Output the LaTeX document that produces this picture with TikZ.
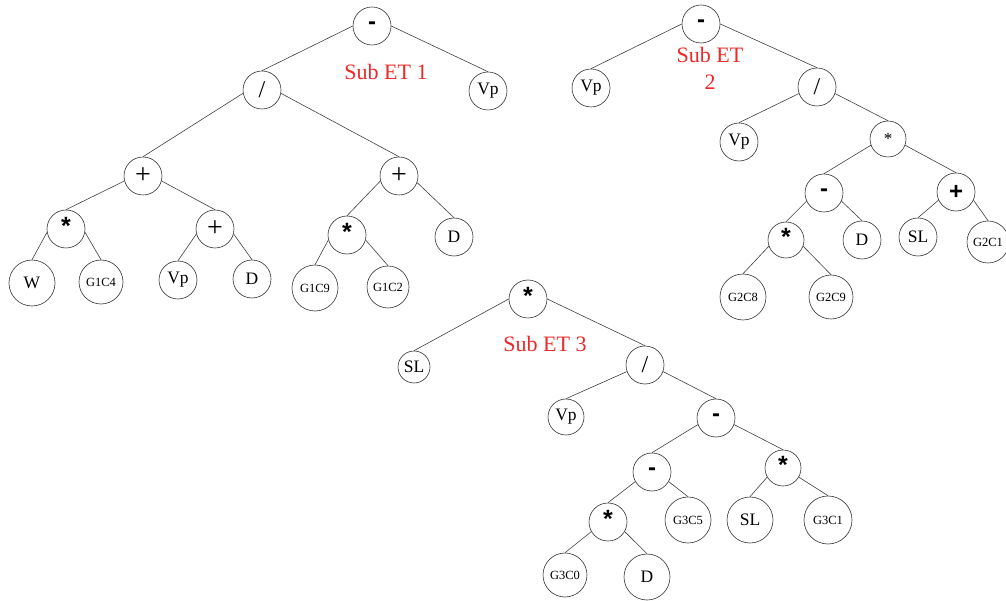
\documentclass[tikz,border=0pt]{standalone}
\usepackage{fontspec}
\setmainfont{Liberation Serif}
\newfontfamily\opsans{Liberation Sans}
\definecolor{labred}{RGB}{238,40,40}
\begin{document}
\begin{tikzpicture}[x=1pt,y=-1pt,
  nd/.style={circle,draw=black!80,line width=0.6pt,inner sep=0pt,minimum size=#1},
  nd/.default=38pt,
  leaf/.style={font=\fontsize{17.5}{18}\selectfont},
  codeleaf/.style={font=\fontsize{12.5}{13}\selectfont},
  opminus/.style={font=\opsans\bfseries\fontsize{24}{24}\selectfont},
  opstar/.style={font=\opsans\bfseries\fontsize{25}{25}\selectfont},
  opsmallstar/.style={font=\fontsize{17}{17}\selectfont},
  opplus/.style={font=\fontsize{28}{28}\selectfont},
  opboldplus/.style={font=\opsans\bfseries\fontsize{24}{24}\selectfont},
  opslash/.style={font=\fontsize{24}{24}\selectfont},
  link/.style={draw=black!75,line width=0.6pt},
  sublabel/.style={text=labred,font=\fontsize{22}{27}\selectfont,align=center,inner sep=0pt}
]
\useasboundingbox (0,0) rectangle (1006,601);
\clip (0,0) rectangle (1006,601);

% ---------- Tree 1 ----------
\node[nd,opminus] (a1) at (372,26) {-};
\node[nd,opslash] (a2) at (262,90) {/};
\node[nd,leaf] (a3) at (488,91) {Vp};
\node[nd,opplus] (a4) at (143,176) {+};
\node[nd,opplus] (a5) at (399,176) {+};
\node[nd,opstar] (a6) at (66,229) {\vphantom{Ag}*};
\node[nd,opplus] (a7) at (215,229) {+};
\node[nd,opstar] (a8) at (347,235) {\vphantom{Ag}*};
\node[nd,leaf] (a9) at (454,237) {D};
\node[nd=46pt,leaf] (a10) at (32,283) {W};
\node[nd=44pt,codeleaf] (a11) at (101,282) {G1C4};
\node[nd,leaf] (a12) at (178,280) {Vp};
\node[nd,leaf] (a13) at (252,279) {D};
\node[nd=46pt,codeleaf] (a14) at (315,288) {G1C9};
\node[nd=42pt,codeleaf] (a15) at (388,287) {G1C2};
\node[sublabel] (s1) at (386,72) {Sub ET 1};

\draw[link] (a1.west) -- (a2.north);
\draw[link] (a1.east) -- (a3.north);
\draw[link] (a2.190) -- (a4.north);
\draw[link] (a2.350) -- (a5.north);
\draw[link] (a4.195) -- (a6.north);
\draw[link] (a4.345) -- (a7.north);
\draw[link] (a5.195) -- (a8.north);
\draw[link] (a5.340) -- (a9.north);
\draw[link] (a6.190) -- (a10.north);
\draw[link] (a6.350) -- (a11.north);
\draw[link] (a7.195) -- (a12.north);
\draw[link] (a7.345) -- (a13.north);
\draw[link] (a8.195) -- (a14.north);
\draw[link] (a8.345) -- (a15.north);

% ---------- Tree 2 ----------
\node[nd,opminus] (b1) at (701,24) {-};
\node[nd,leaf] (b2) at (591,88) {Vp};
\node[nd,opslash] (b3) at (817,87) {/};
\node[nd,leaf] (b4) at (739,142) {Vp};
\node[nd=36pt,opsmallstar] (b5) at (888,139) {*};
\node[nd,opminus] (b6) at (824,193) {-};
\node[nd,opboldplus] (b7) at (956,192) {+};
\node[nd=36pt,opstar] (b8) at (786,240) {\vphantom{Ag}*};
\node[nd,leaf] (b9) at (862,240) {D};
\node[nd,leaf] (b10) at (918,237) {SL};
\node[nd=42pt,codeleaf] (b11) at (988,242) {G2C1};
\node[nd=46pt,codeleaf] (b12) at (743,297) {G2C8};
\node[nd=44pt,codeleaf] (b13) at (831,297) {G2C9};
\node[sublabel] (s2) at (710,68) {Sub ET\\2};

\draw[link] (b1.west) -- (b2.north);
\draw[link] (b1.east) -- (b3.north);
\draw[link] (b3.200) -- (b4.north);
\draw[link] (b3.340) -- (b5.north);
\draw[link] (b5.200) -- (b6.north);
\draw[link] (b5.340) -- (b7.north);
\draw[link] (b6.205) -- (b8.north);
\draw[link] (b6.335) -- (b9.north);
\draw[link] (b7.205) -- (b10.north);
\draw[link] (b7.335) -- (b11.north);
\draw[link] (b8.200) -- (b12.north);
\draw[link] (b8.340) -- (b13.north);

% ---------- Tree 3 ----------
\node[nd,opstar] (c1) at (528,299) {\vphantom{Ag}*};
\node[nd=32pt,leaf] (c2) at (414,367) {SL};
\node[nd,opslash] (c3) at (645,365) {/};
\node[nd=36pt,leaf] (c4) at (566,417) {Vp};
\node[nd,opminus] (c5) at (716,418) {-};
\node[nd,opminus] (c6) at (652,472) {-};
\node[nd=36pt,opstar] (c7) at (783,468) {\vphantom{Ag}*};
\node[nd,opstar] (c8) at (608,522) {\vphantom{Ag}*};
\node[nd=46pt,codeleaf] (c9) at (688,520) {G3C5};
\node[nd=46pt,leaf] (c10) at (750,520) {SL};
\node[nd=48pt,codeleaf] (c11) at (828,520) {G3C1};
\node[nd=44pt,codeleaf] (c12) at (565,575) {G3C0};
\node[nd=46pt,leaf] (c13) at (647,577) {D};
\node[sublabel] (s3) at (545,344) {Sub ET 3};

\draw[link] (c1.west) -- (c2.north);
\draw[link] (c1.east) -- (c3.north);
\draw[link] (c3.200) -- (c4.north);
\draw[link] (c3.340) -- (c5.north);
\draw[link] (c5.200) -- (c6.north);
\draw[link] (c5.340) -- (c7.north);
\draw[link] (c6.210) -- (c8.north);
\draw[link] (c6.330) -- (c9.north);
\draw[link] (c7.210) -- (c10.north);
\draw[link] (c7.330) -- (c11.north);
\draw[link] (c8.210) -- (c12.north);
\draw[link] (c8.330) -- (c13.north);
\end{tikzpicture}
\end{document}
